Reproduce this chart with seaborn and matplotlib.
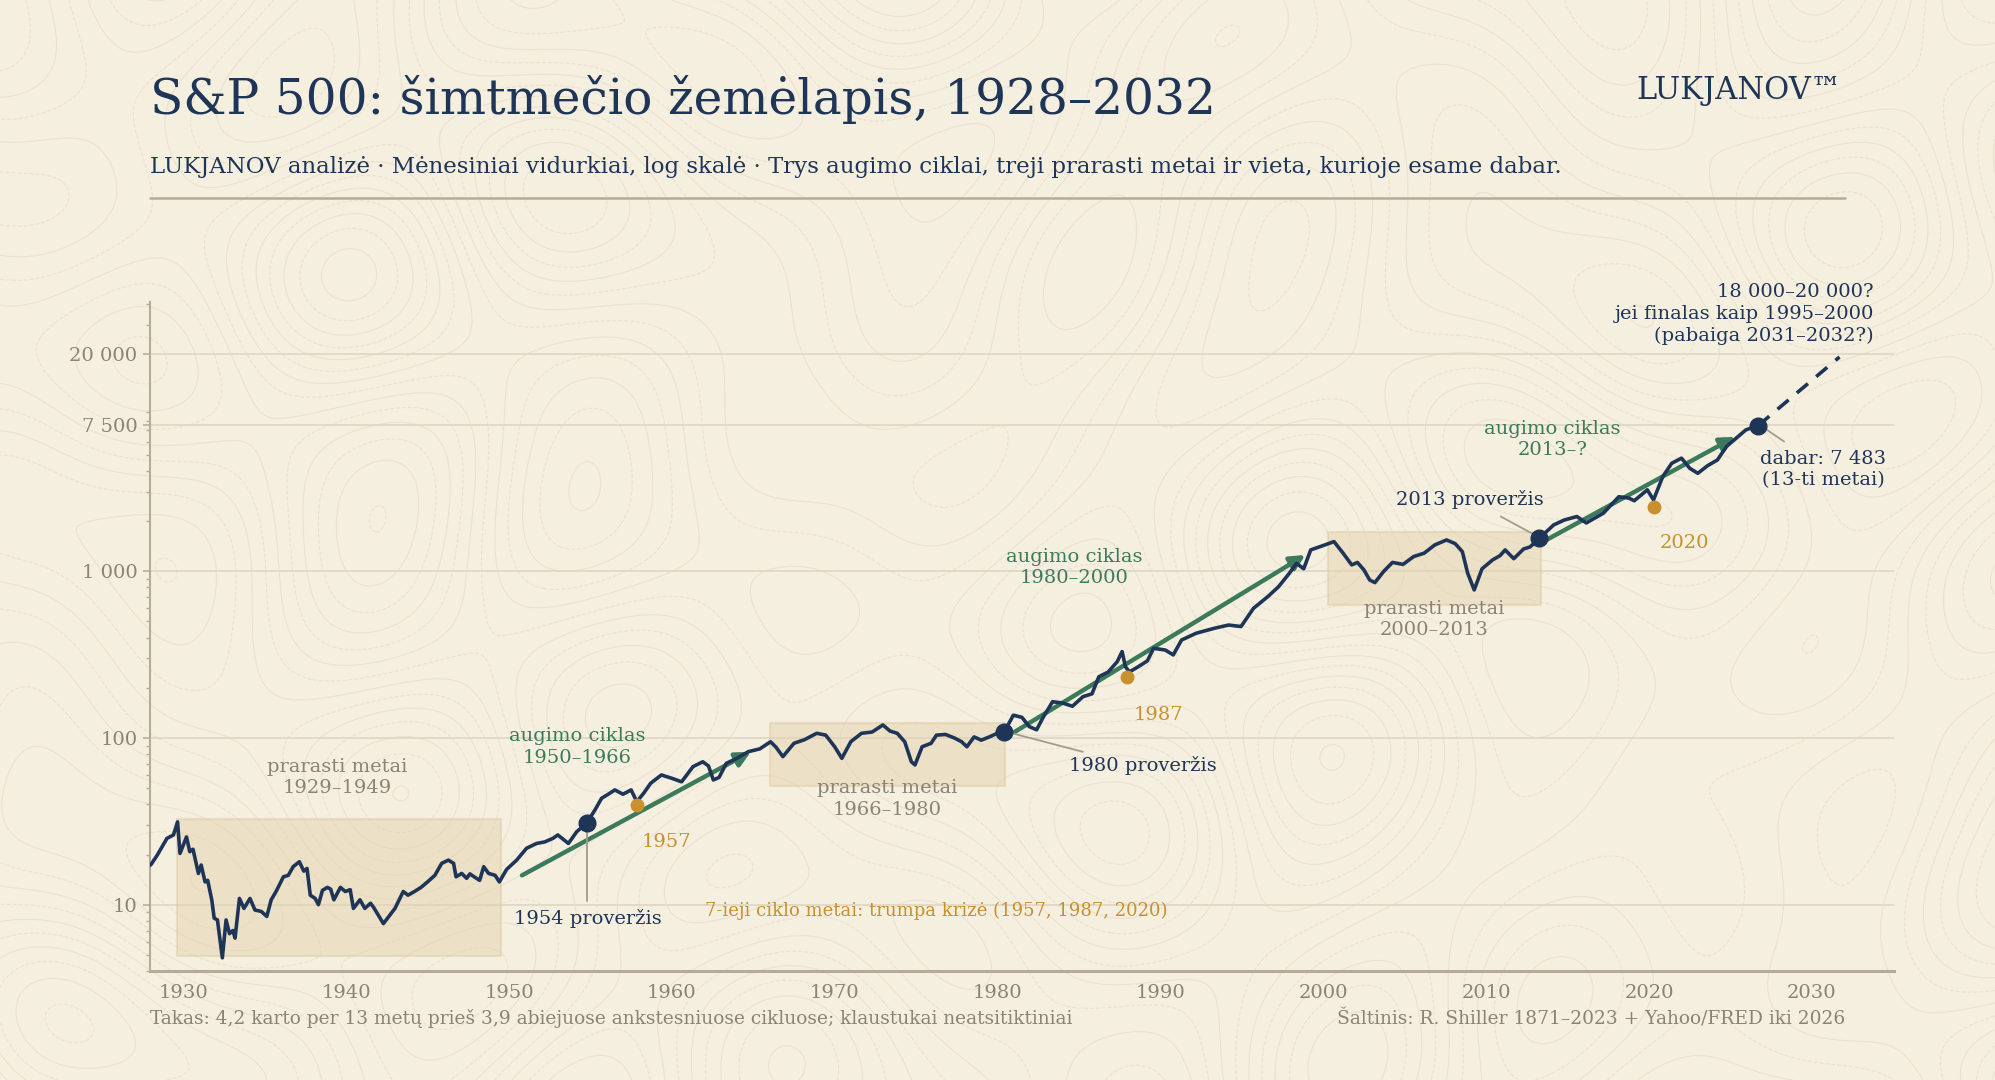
import numpy as np
import pandas as pd
import matplotlib
matplotlib.use("Agg")
import matplotlib.pyplot as plt
import matplotlib.ticker as ticker
import seaborn as sns

# S&P 500 monthly-average path (year, level)
years = [1928.0, 1928.4, 1929.0, 1929.4, 1929.65, 1929.8, 1930.2, 1930.4, 1930.6, 1930.93,
         1931.1, 1931.34, 1931.5, 1931.75, 1931.9, 1932.1, 1932.4, 1932.63, 1932.84, 1933.05,
         1933.18, 1933.45, 1933.73, 1934.1, 1934.4, 1934.8, 1935.13, 1935.4, 1935.7, 1936.15,
         1936.45, 1936.75, 1937.13, 1937.4, 1937.6, 1937.8, 1938.1, 1938.3, 1938.55, 1938.85,
         1939.05, 1939.25, 1939.65, 1939.95, 1940.25, 1940.45, 1940.85, 1941.15, 1941.5, 1941.7,
         1942.29, 1942.7, 1943.0, 1943.51, 1943.8, 1944.2, 1944.6, 1945.0, 1945.45, 1945.87,
         1946.28, 1946.6, 1946.75, 1947.1, 1947.4, 1947.6, 1948.0, 1948.2, 1948.45, 1948.75,
         1949.15, 1949.41, 1949.86, 1950.47, 1951.08, 1951.7, 1952.2, 1952.7, 1953.0, 1953.65,
         1954.16, 1954.77, 1955.28, 1955.69, 1956.1, 1956.5, 1957.0, 1957.5, 1957.85, 1958.27,
         1958.7, 1959.36, 1960.0, 1960.6, 1961.3, 1961.9, 1962.25, 1962.55, 1962.9, 1963.35,
         1964.0, 1964.7, 1965.4, 1966.06, 1966.4, 1966.82, 1967.5, 1968.15, 1968.9, 1969.45,
         1970.0, 1970.44, 1970.99, 1971.65, 1972.3, 1972.96, 1973.4, 1973.84, 1974.3, 1974.71,
         1974.93, 1975.37, 1975.92, 1976.25, 1976.8, 1977.35, 1977.79, 1978.12, 1978.56, 1979.0,
         1979.55, 1979.98, 1980.42, 1980.97, 1981.5, 1981.95, 1982.4, 1982.8, 1983.38, 1984.0,
         1984.6, 1985.25, 1985.8, 1986.22, 1986.8, 1987.35, 1987.65, 1987.85, 1988.1, 1988.65,
         1989.2, 1989.58, 1990.3, 1990.79, 1991.3, 1992.2, 1993.31, 1994.19, 1994.95, 1995.72,
         1996.6, 1997.26, 1997.92, 1998.36, 1998.8, 1999.23, 2000.1, 2000.66, 2001.2, 2001.75,
         2002.1, 2002.5, 2002.85, 2003.17, 2003.7, 2004.25, 2004.9, 2005.55, 2006.2, 2006.85,
         2007.57, 2008.1, 2008.54, 2008.87, 2009.27, 2009.75, 2010.4, 2010.85, 2011.17, 2011.7,
         2012.3, 2012.7, 2013.27, 2014.15, 2014.8, 2015.57, 2016.15, 2017.2, 2018.15, 2018.75,
         2019.1, 2019.9, 2020.28, 2020.85, 2021.4, 2022.0, 2022.5, 2023.0, 2023.6, 2024.2,
         2024.76, 2025.35, 2025.95, 2026.71]
levels = [17.3, 19.8, 25.0, 26.2, 31.4, 20.3, 25.5, 20.8, 21.5, 15.4,
          17.3, 13.7, 14.0, 10.7, 8.3, 8.1, 4.8, 8.1, 6.7, 7.0,
          6.3, 10.9, 9.5, 10.9, 9.3, 9.1, 8.5, 10.7, 12.0, 14.7,
          15.0, 16.9, 18.1, 15.9, 16.5, 11.4, 10.9, 10.0, 12.2, 12.7,
          12.4, 10.7, 12.7, 12.0, 12.3, 9.5, 10.7, 9.5, 10.2, 9.6,
          7.7, 8.7, 9.5, 12.0, 11.4, 12.0, 12.7, 13.7, 15.0, 17.7,
          18.5, 17.7, 14.7, 15.4, 14.4, 15.3, 14.4, 14.0, 16.9, 15.4,
          15.0, 13.7, 16.3, 18.5, 21.8, 23.3, 23.8, 25.0, 26.2, 23.3,
          27.4, 30.8, 37.0, 43.5, 46.0, 48.8, 46.0, 48.8, 41.5, 46.6,
          53.5, 60.0, 57.3, 54.6, 67.3, 72.0, 68.0, 56.0, 58.0, 70.5,
          75.5, 82.8, 86.0, 94.9, 88.0, 77.3, 92.9, 97.7, 106.7, 104.0,
          88.6, 75.5, 95.0, 106.7, 108.6, 119.7, 110.0, 106.7, 95.0, 72.0,
          68.9, 88.6, 92.9, 104.0, 105.0, 100.0, 95.0, 88.6, 101.5, 97.0,
          102.0, 106.7, 109.0, 137.0, 133.0, 117.0, 112.0, 133.0, 165.0, 162.0,
          155.0, 177.0, 184.0, 233.0, 249.0, 287.0, 330.0, 268.0, 249.0, 268.0,
          290.0, 345.0, 337.0, 315.0, 387.0, 425.0, 455.0, 476.0, 466.0, 600.0,
          705.0, 809.0, 973.0, 1117.0, 1035.0, 1343.0, 1439.0, 1507.0, 1291.0, 1092.0,
          1130.0, 1018.0, 887.0, 855.0, 995.0, 1130.0, 1100.0, 1225.0, 1285.0, 1439.0,
          1541.0, 1465.0, 1312.0, 973.0, 773.0, 1035.0, 1170.0, 1240.0, 1343.0, 1190.0,
          1360.0, 1400.0, 1578.0, 1897.0, 2030.0, 2130.0, 1950.0, 2230.0, 2800.0, 2750.0,
          2650.0, 3080.0, 2680.0, 3700.0, 4446.0, 4770.0, 4150.0, 3870.0, 4300.0, 4650.0,
          5600.0, 6280.0, 7050.0, 7483.0]

# lost-decade boxes: start, end, low, high
box_start = [1929.6, 1966.05, 2000.3]
box_end = [1949.5, 1980.45, 2013.4]
box_low = [4.95, 51.3, 628]
box_high = [32.5, 123, 1730]
box_labels = ["prarasti metai\n1929–1949", "prarasti metai\n1966–1980", "prarasti metai\n2000–2013"]

# growth-cycle trend arrows: (x0, y0) -> (x1, y1)
arrow_x0 = [1950.8, 1981.07, 2013.7]
arrow_y0 = [15.0, 109, 1541]
arrow_x1 = [1964.85, 1998.9, 2025.3]
arrow_y1 = [82.6, 1253, 6400]
cycle_labels = ["augimo ciklas\n1950–1966", "augimo ciklas\n1980–2000", "augimo ciklas\n2013–?"]

# breakouts and 7th-year dips
break_years = [1954.77, 1980.42, 2013.27, 2026.71]
break_levels = [30.8, 109, 1578, 7483]
dip_years = [1957.85, 1987.98, 2020.28]
dip_levels = [39.6, 231, 2420]
dip_labels = ["1957", "1987", "2020"]

# projection
proj_years = [2026.71, 2031.7]
proj_levels = [7483, 19300]

ytick_vals = [10, 100, 1000, 7500, 20000]
ytick_labels = ["10", "100", "1 000", "7 500", "20 000"]
xtick_vals = list(range(1930, 2031, 10))

BG = "#f5efe0"
NAVY = "#1f3557"
GREEN = "#3d7a5c"
ORANGE = "#c8902e"
GREY = "#8b8475"
RULE = "#b5ab98"
BOX = "#e3d0a8"

sns.set_theme(style="white")
plt.rcParams["font.family"] = ["DejaVu Serif", "DejaVu Sans"]

fig = plt.figure(figsize=(19.95, 10.8), dpi=100, facecolor=BG)

# faint topographic texture behind everything
bg = fig.add_axes([0, 0, 1, 1], zorder=-10)
gx, gy = np.meshgrid(np.linspace(0, 20, 500), np.linspace(0, 11, 280))
field = (np.sin(gx * 1.3) * np.cos(gy * 1.1) + 0.6 * np.sin(gx * 0.7 + gy * 1.5)
         + 0.45 * np.cos(gx * 2.1 - gy * 0.9) + 0.3 * np.sin(gy * 2.3 + gx * 0.4))
bg.contour(gx, gy, field, levels=np.linspace(-2.0, 2.0, 15), colors="#ebe2ce",
           linewidths=0.8, linestyles=["solid", "dashed"])
bg.set_xlim(0, 20)
bg.set_ylim(0, 11)
bg.axis("off")
bg.set_facecolor(BG)

ax = fig.add_axes([0.0752, 0.1009, 0.8742, 0.6199])
ax.set_facecolor("none")

df = pd.DataFrame({"year": years, "level": levels})

for x0, x1, lo, hi in zip(box_start, box_end, box_low, box_high):
    ax.fill_between([x0, x1], lo, hi, facecolor=BOX, alpha=0.45, edgecolor="#dcc79e", lw=1.5, zorder=1)

for i in range(3):
    ax.annotate("", xy=(arrow_x1[i], arrow_y1[i]), xytext=(arrow_x0[i], arrow_y0[i]),
                arrowprops=dict(arrowstyle="-|>", color=GREEN, lw=3.2, mutation_scale=22,
                                shrinkA=0, shrinkB=0), zorder=3)

sns.lineplot(data=df, x="year", y="level", ax=ax, color=NAVY, lw=2.6, zorder=4)
ax.plot(proj_years, proj_levels, color=NAVY, lw=2.6, ls=(0, (4, 3)), zorder=4)

ax.plot(break_years, break_levels, "o", color=NAVY, ms=12, zorder=6)
ax.plot(dip_years, dip_levels, "o", color=ORANGE, ms=9, zorder=6)

ax.set_yscale("log")
ax.set_xlim(1927.96, 2035.05)
ax.set_ylim(4.0, 41500)
ax.set_yticks(ytick_vals)
ax.set_yticklabels(ytick_labels)
ax.yaxis.set_minor_locator(ticker.LogLocator(base=10, subs=np.arange(2, 10)))
ax.yaxis.set_minor_formatter(ticker.NullFormatter())
ax.set_xticks(xtick_vals)
ax.set_xticklabels([str(v) for v in xtick_vals])
ax.set_xlabel("")
ax.set_ylabel("")
ax.grid(axis="y", which="major", color="#ddd4c2", lw=1.1, zorder=0)
ax.grid(axis="x", visible=False)
for side in ["top", "right"]:
    ax.spines[side].set_visible(False)
ax.spines["left"].set_color(RULE)
ax.spines["left"].set_linewidth(1.5)
ax.spines["bottom"].set_color(RULE)
ax.spines["bottom"].set_linewidth(2.2)
ax.tick_params(axis="y", which="major", length=5, width=1.2, color=RULE, labelsize=14,
               labelcolor=GREY, pad=4, left=True)
ax.tick_params(axis="y", which="minor", length=3, width=1, color=RULE, left=True)
ax.tick_params(axis="x", length=0, labelsize=14, labelcolor=GREY, pad=9)

# annotations
txt = dict(ha="center", va="center", fontsize=14, linespacing=1.25, zorder=7)
ax.text(1939.45, 58, box_labels[0], color=GREY, **txt)
ax.text(1973.2, 43, box_labels[1], color=GREY, **txt)
ax.text(2006.8, 513, box_labels[2], color=GREY, **txt)
ax.text(1954.2, 88, cycle_labels[0], color=GREEN, **txt)
ax.text(1984.7, 1054, cycle_labels[1], color=GREEN, **txt)
ax.text(2014.06, 6170, cycle_labels[2], color=GREEN, **txt)

ax.plot([1954.77, 1954.77], [30.8, 10.5], color="#a39b8b", lw=1.3, zorder=5)
ax.text(1954.85, 8.24, "1954 proveržis", color=NAVY, **txt)
ax.plot([1980.85, 1985.24], [107, 82.6], color="#a39b8b", lw=1.3, zorder=5)
ax.text(1988.9, 68, "1980 proveržis", color=NAVY, **txt)
ax.plot([2010.9, 2013.0], [2130, 1650], color="#a39b8b", lw=1.3, zorder=5)
ax.text(2009.0, 2680, "2013 proveržis", color=NAVY, **txt)
ax.plot([2027.1, 2028.3], [7210, 6000], color="#a39b8b", lw=1.3, zorder=5)
ax.text(2030.7, 4080, "dabar: 7 483\n(13-ti metai)", color=NAVY, **txt)

ax.text(1959.7, 23.7, dip_labels[0], color=ORANGE, **txt)
ax.text(1989.85, 137, dip_labels[1], color=ORANGE, **txt)
ax.text(2022.2, 1480, dip_labels[2], color=ORANGE, **txt)
ax.text(1976.25, 9.16, "7-ieji ciklo metai: trumpa krizė (1957, 1987, 2020)", color=ORANGE,
        ha="center", va="center", fontsize=13, zorder=7)
ax.text(2033.8, 35000, "18 000–20 000?\njei finalas kaip 1995–2000\n(pabaiga 2031–2032?)",
        color=NAVY, ha="right", va="center", fontsize=14, linespacing=1.25, zorder=7)

# header and footer
fig.text(150 / 1995, 1 - 100 / 1080, "S&P 500: šimtmečio žemėlapis, 1928–2032",
         color=NAVY, fontsize=35, ha="left", va="center")
fig.text(1842 / 1995, 1 - 90 / 1080, "LUKJANOV™", color=NAVY, fontsize=22, ha="right", va="center")
fig.text(150 / 1995, 1 - 167 / 1080,
         "LUKJANOV analizė · Mėnesiniai vidurkiai, log skalė · Trys augimo ciklai, treji prarasti metai ir vieta, kurioje esame dabar.",
         color=NAVY, fontsize=16.5, ha="left", va="center")
fig.add_artist(plt.Line2D([150 / 1995, 1845 / 1995], [1 - 198.5 / 1080] * 2, color=RULE, lw=1.8))
fig.text(150 / 1995, 1 - 1019 / 1080,
         "Takas: 4,2 karto per 13 metų prieš 3,9 abiejuose ankstesniuose cikluose; klaustukai neatsitiktiniai",
         color=GREY, fontsize=13.4, ha="left", va="center")
fig.text(1845 / 1995, 1 - 1019 / 1080, "Šaltinis: R. Shiller 1871–2023 + Yahoo/FRED iki 2026",
         color=GREY, fontsize=13.4, ha="right", va="center")

fig.savefig("out.png", dpi=100, facecolor=BG)
